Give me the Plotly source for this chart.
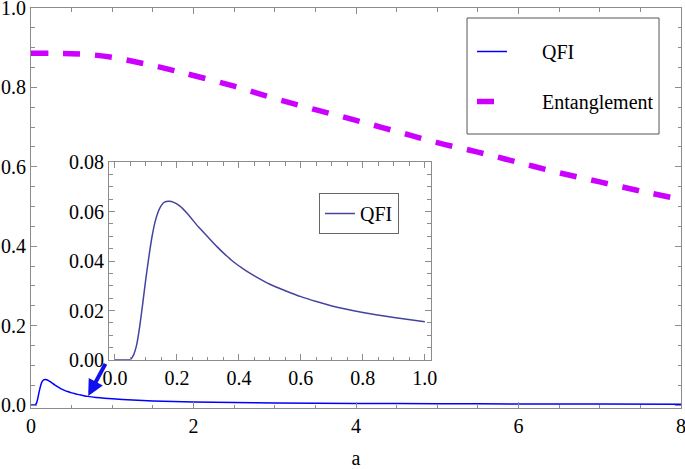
import plotly.graph_objects as go

# ---- data ----
qfi_a = [0, 0.02, 0.04, 0.05, 0.06, 0.07, 0.08, 0.09, 0.10, 0.11, 0.12, 0.13, 0.14,
         0.15, 0.16, 0.175, 0.19, 0.21, 0.235, 0.27, 0.30, 0.33, 0.36, 0.38, 0.42, 0.45, 0.50,
         0.55, 0.60, 0.65, 0.70, 0.80, 0.90, 1.00, 1.25, 1.5, 2.0, 2.5, 3.0, 4.0, 5.0, 6.0, 7.0, 8.0]
qfi_v = [0, 0, 0, 0.0002, 0.002, 0.006, 0.0135, 0.023, 0.033, 0.042, 0.050, 0.056, 0.060,
         0.0625, 0.0638, 0.0641, 0.0637, 0.0622, 0.059, 0.0537, 0.0497, 0.0457, 0.0421, 0.0399,
         0.0363, 0.0340, 0.0306, 0.0280, 0.0256, 0.0236, 0.0218, 0.0192, 0.0172, 0.0155, 0.0125,
         0.0104, 0.0079, 0.0064, 0.0054, 0.0041, 0.0033, 0.0027, 0.0023, 0.0020]

ent_a = [0, 0.25, 0.5, 0.75, 1.0, 1.25, 1.5, 1.75, 2.0, 2.5, 3.0, 3.5, 4.0, 4.5, 5.0, 5.5, 6.0,
         6.5, 7.0, 7.5, 8.0]
ent_v = [0.886, 0.886, 0.885, 0.882, 0.876, 0.866, 0.855, 0.843, 0.830, 0.803, 0.772, 0.744,
         0.717, 0.689, 0.661, 0.637, 0.611, 0.585, 0.562, 0.539, 0.518]

inset_a = [a for a in qfi_a if a <= 1.0]
inset_v = [v for a, v in zip(qfi_a, qfi_v) if a <= 1.0]

main_x_ticks = [0, 2, 4, 6, 8]
main_y_ticks = [0.0, 0.2, 0.4, 0.6, 0.8, 1.0]
inset_x_ticks = [0.0, 0.2, 0.4, 0.6, 0.8, 1.0]
inset_y_ticks = [0.00, 0.02, 0.04, 0.06, 0.08]

FONT = "Liberation Serif, Times New Roman, serif"
FRAME = "#8c8c8c"
FS = 20
PAD = "&nbsp;" * 6

fig = go.Figure()
fig.add_trace(go.Scatter(x=qfi_a, y=qfi_v, mode="lines", name=PAD + "QFI",
                         line=dict(color="#0000ff", width=1.5, shape="spline", smoothing=0.5),
                         legend="legend", legendgroup="g1", xaxis="x", yaxis="y"))
fig.add_trace(go.Scatter(x=ent_a, y=ent_v, mode="lines", name=PAD + "Entanglement",
                         line=dict(color="#cc00ff", width=5.5, dash="17px,15px", shape="spline"),
                         legend="legend", legendgroup="g2", xaxis="x", yaxis="y"))
fig.add_trace(go.Scatter(x=inset_a, y=inset_v, mode="lines", name="QFI",
                         line=dict(color="#44449e", width=1.5, shape="spline", smoothing=0.5),
                         legend="legend2", xaxis="x2", yaxis="y2"))

axis_common = dict(showline=True, linecolor=FRAME, linewidth=1, mirror="allticks",
                   ticks="inside", tickcolor=FRAME, tickwidth=1, showgrid=False,
                   zeroline=False, ticklabeloverflow="allow",
                   tickfont=dict(family=FONT, size=FS, color="black"))

fig.update_layout(
    width=685, height=469,
    margin=dict(l=31, r=4, t=8, b=61, autoexpand=False),
    paper_bgcolor="white", plot_bgcolor="white",
    font=dict(family=FONT, size=FS, color="black"),
    xaxis=dict(domain=[0, 1], range=[0, 8], tickvals=main_x_ticks,
               ticklen=6, minor=dict(dtick=0.5, ticks="inside", ticklen=3.5, tickcolor=FRAME),
               title=dict(text="a", font=dict(family=FONT, size=FS), standoff=21),
               **axis_common),
    yaxis=dict(domain=[0, 1], range=[-0.0075, 1.0], tickvals=main_y_ticks, tickformat=".1f",
               ticklen=6, minor=dict(dtick=0.05, ticks="inside", ticklen=3.5, tickcolor=FRAME),
               **axis_common),
    xaxis2=dict(domain=[0.12, 0.615], range=[-0.019, 1.019], anchor="y2",
                tickvals=inset_x_ticks, tickformat=".1f", ticklen=6,
                minor=dict(dtick=0.05, ticks="inside", ticklen=3.5, tickcolor=FRAME),
                **axis_common),
    yaxis2=dict(domain=[0.12, 0.615], range=[0, 0.08], anchor="x2",
                tickvals=inset_y_ticks, tickformat=".2f", ticklen=6,
                minor=dict(dtick=0.005, ticks="inside", ticklen=3.5, tickcolor=FRAME),
                **axis_common),
    legend=dict(x=0.6785, y=0.94, xanchor="left", yanchor="top",
                bgcolor="rgba(0,0,0,0)", borderwidth=0,
                font=dict(family=FONT, size=FS), itemwidth=30, tracegroupgap=21,
                traceorder="grouped"),
    legend2=dict(x=0.443, y=0.5375, xanchor="left", yanchor="top",
                 bgcolor="white", bordercolor="#666", borderwidth=1,
                 font=dict(family=FONT, size=FS), itemwidth=30),
    showlegend=True,
    shapes=[dict(type="rect", xref="paper", yref="paper", x0=0.6708, x1=0.9662,
                 y0=0.685, y1=0.975, line=dict(color="#555", width=1),
                 fillcolor="white", layer="above")],
    annotations=[dict(x=0.704, y=0.023, xref="x", yref="y", ax=0.926, ay=0.1075,
                      axref="x", ayref="y", showarrow=True, arrowhead=2, arrowsize=0.8,
                      arrowwidth=4, arrowcolor="#1010ee", text="")],
)

fig.write_html("out.html", config={"displayModeBar": False},
               post_script="document.body.style.margin='0px';")
